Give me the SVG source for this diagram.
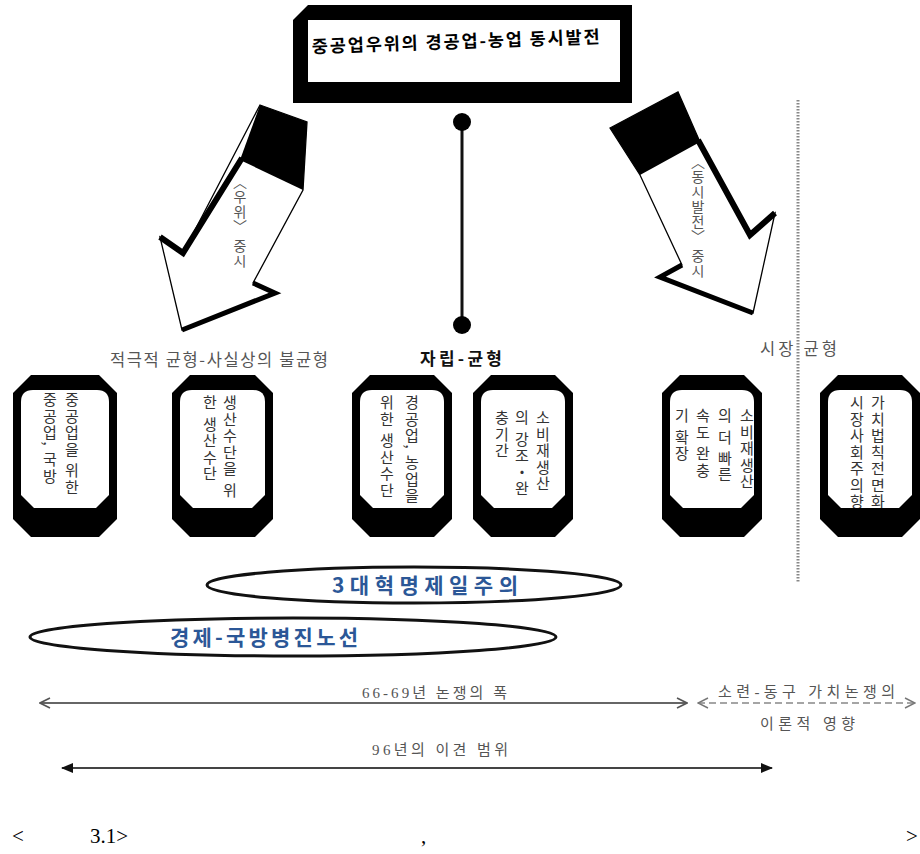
<svg xmlns="http://www.w3.org/2000/svg" width="920" height="854" viewBox="0 0 920 854">
<style>
.bg{fill:#fff}
.frame{fill:#000}
.inner{fill:#fff}
.vt{writing-mode:vertical-rl;font-family:"Noto Sans CJK KR","Noto Sans",sans-serif;font-size:15px;letter-spacing:1.5px;fill:#333}
.vta{writing-mode:vertical-rl;font-family:"Noto Sans CJK KR","Noto Sans",sans-serif;font-size:14px;letter-spacing:1px;fill:#555}
.lbl{font-family:"Noto Sans CJK KR","Noto Sans",sans-serif;font-size:16.5px;fill:#555}
.lbls{font-family:"Liberation Serif","Noto Sans CJK KR",serif;font-size:15px;fill:#555}
.blue{font-family:"Noto Sans CJK KR","Noto Sans",sans-serif;font-size:21px;font-weight:bold;fill:#2b5797}
.ell{fill:#fff;stroke:#111;stroke-width:3}
.cap{font-family:"Liberation Serif",serif;font-size:21px;fill:#000}
.face{fill:#fff;stroke:#000;stroke-width:1.3;stroke-linejoin:miter}
.thick{fill:none;stroke:#000;stroke-linejoin:miter}
</style>
<defs>
<marker id="chev" viewBox="0 0 12 12" refX="11" refY="6" markerWidth="12" markerHeight="12" markerUnits="userSpaceOnUse" orient="auto-start-reverse"><path d="M1,1 L11,6 L1,11" fill="none" stroke="#555" stroke-width="1.6"/></marker>
<marker id="chevd" viewBox="0 0 12 12" refX="11" refY="6" markerWidth="12" markerHeight="12" markerUnits="userSpaceOnUse" orient="auto-start-reverse"><path d="M1,1 L11,6 L1,11" fill="none" stroke="#777" stroke-width="1.4"/></marker>
<marker id="tri" viewBox="0 0 12 10" refX="11" refY="5" markerWidth="12" markerHeight="10" markerUnits="userSpaceOnUse" orient="auto-start-reverse"><path d="M0,0 L12,5 L0,10 Z" fill="#111"/></marker>
<clipPath id="clip6"><path d="M840,390 H900 Q912,390 912,402 V495 L899,508 H841 L828,495 V402 Q828,390 840,390 Z"/></clipPath>
</defs>
<rect class="bg" x="0" y="0" width="920" height="854"/>

<g id="title">
<path class="frame" d="M308,5 H632 V103 H293 V20 Z"/>
<rect class="inner" x="308" y="20" width="312" height="62"/>
<text x="312" y="53" transform="rotate(-2 312 53)" font-family="Noto Sans CJK KR, sans-serif" font-size="17.5" font-weight="bold" fill="#000" textLength="288" lengthAdjust="spacing">중공업우위의 경공업-농업 동시발전</text>
</g>

<g id="connectors">
<line x1="462" y1="122" x2="462" y2="325" stroke="#111" stroke-width="3"/>
<circle cx="462" cy="122" r="9" fill="#000"/>
<circle cx="462" cy="325" r="9" fill="#000"/>
<line x1="798" y1="100" x2="798" y2="582" stroke="#888" stroke-width="3" stroke-dasharray="1.5 1.5"/>
<line x1="40" y1="703" x2="687" y2="703" stroke="#666" stroke-width="2.2" marker-start="url(#chev)" marker-end="url(#chev)"/>
<line x1="698" y1="703" x2="915" y2="703" stroke="#888" stroke-width="1.4" stroke-dasharray="7 4" marker-start="url(#chevd)" marker-end="url(#chevd)"/>
<line x1="62" y1="768" x2="772" y2="768" stroke="#444" stroke-width="2" marker-start="url(#tri)" marker-end="url(#tri)"/>
</g>

<g id="arrow-left">
<polygon class="face" points="260,105 307,122 303,190 253,283 275,293 182,330 160,237 183,253"/>
<polygon class="frame" points="260,105 307,122 303,190 240,160"/>
<polyline class="thick" stroke-width="6" points="242,158 183,253 160,237"/>
<polyline class="thick" stroke-width="5" points="182,330 275,293 253,283"/>
<text class="vta" x="240" y="175">〈우위〉 중시</text>
</g>

<g id="arrow-right">
<polygon class="face" points="610,128 678,92 700,142 750,235 775,213 753,313 660,277 682,265 640,175"/>
<polygon class="frame" points="610,128 678,92 700,142 640,175"/>
<polyline class="thick" stroke-width="6" points="698,140 750,235 775,213"/>
<polyline class="thick" stroke-width="5" points="753,313 660,277 682,265"/>
<text class="vta" x="698" y="155">〈동시발전〉 중시</text>
</g>

<g id="labels">
<text class="lbl" x="110" y="366" textLength="218" lengthAdjust="spacing">적극적 균형-사실상의 불균형</text>
<text x="420" y="365" font-family="Noto Sans CJK KR, sans-serif" font-size="17" font-weight="bold" fill="#111" textLength="82" lengthAdjust="spacing">자립-균형</text>
<text class="lbl" x="760" y="355" textLength="77" lengthAdjust="spacing">시장 균형</text>
</g>

<g id="box1">
<path class="frame" d="M31,375 H99 L117,393 V519 L99,537 H31 L13,519 V393 Z"/>
<path class="inner" d="M33,390 H97 Q109,390 109,402 V495 L96,508 H34 L21,495 V402 Q21,390 33,390 Z"/>
<text class="vt" x="72" y="392">중공업을 위한</text>
<text class="vt" x="50" y="392">중공업, 국방</text>
</g>

<g id="box2">
<path class="frame" d="M190,375 H255 L273,393 V519 L255,537 H190 L172,519 V393 Z"/>
<path class="inner" d="M192,390 H253 Q265,390 265,402 V495 L252,508 H193 L180,495 V402 Q180,390 192,390 Z"/>
<text class="vt" x="230" y="395">생산수단을 위</text>
<text class="vt" x="210" y="395">한 생산수단</text>
</g>

<g id="box3">
<path class="frame" d="M370,375 H434 L452,393 V519 L434,537 H370 L352,519 V393 Z"/>
<path class="inner" d="M372,390 H432 Q444,390 444,402 V495 L431,508 H373 L360,495 V402 Q360,390 372,390 Z"/>
<text class="vt" x="412" y="395">경공업, 농업을</text>
<text class="vt" x="387" y="395">위한 생산수단</text>
</g>

<g id="box4">
<path class="frame" d="M491,375 H555 L573,393 V519 L555,537 H491 L473,519 V393 Z"/>
<path class="inner" d="M493,390 H553 Q565,390 565,402 V495 L552,508 H494 L481,495 V402 Q481,390 493,390 Z"/>
<text class="vt" x="543" y="410">소비재생산</text>
<text class="vt" x="522" y="410">의 강조・완</text>
<text class="vt" x="502" y="410">충기간</text>
</g>

<g id="box5">
<path class="frame" d="M680,375 H744 L762,393 V519 L744,537 H680 L662,519 V393 Z"/>
<path class="inner" d="M682,390 H742 Q754,390 754,402 V495 L741,508 H683 L670,495 V402 Q670,390 682,390 Z"/>
<text class="vt" x="747" y="408">소비재생산</text>
<text class="vt" x="725" y="408">의 더 빠른</text>
<text class="vt" x="703" y="408">속도 완충</text>
<text class="vt" x="682" y="408">기 확장</text>
</g>

<g id="box6">
<path class="frame" d="M838,375 H902 L920,393 V519 L902,537 H838 L820,519 V393 Z"/>
<path class="inner" d="M840,390 H900 Q912,390 912,402 V495 L899,508 H841 L828,495 V402 Q828,390 840,390 Z"/>
<g clip-path="url(#clip6)">
<text class="vt" x="878" y="395">가치법칙전면화</text>
<text class="vt" x="857" y="395">시장사회주의향</text>
</g>
</g>

<g id="ellipse1">
<ellipse class="ell" cx="414" cy="585" rx="207" ry="18"/>
<text class="blue" x="332" y="593" textLength="186" lengthAdjust="spacing">3대혁명제일주의</text>
</g>

<g id="ellipse2">
<ellipse class="ell" cx="293" cy="637" rx="263" ry="19"/>
<text class="blue" x="170" y="645" textLength="188" lengthAdjust="spacing">경제-국방병진노선</text>
</g>

<g id="range-labels">
<text class="lbls" x="362" y="698" textLength="145" lengthAdjust="spacing">66-69년 논쟁의 폭</text>
<text class="lbls" x="718" y="697" textLength="177" lengthAdjust="spacing">소련-동구 가치논쟁의</text>
<text class="lbls" x="760" y="729" textLength="95" lengthAdjust="spacing">이론적 영향</text>
<text class="lbls" x="372" y="755" textLength="136" lengthAdjust="spacing">96년의 이견 범위</text>
</g>

<g id="caption">
<text class="cap" x="12" y="843">&lt;</text>
<text class="cap" x="90" y="843">3.1&gt;</text>
<text class="cap" x="421" y="843">,</text>
<text class="cap" x="906" y="843">&gt;</text>
</g>
</svg>
